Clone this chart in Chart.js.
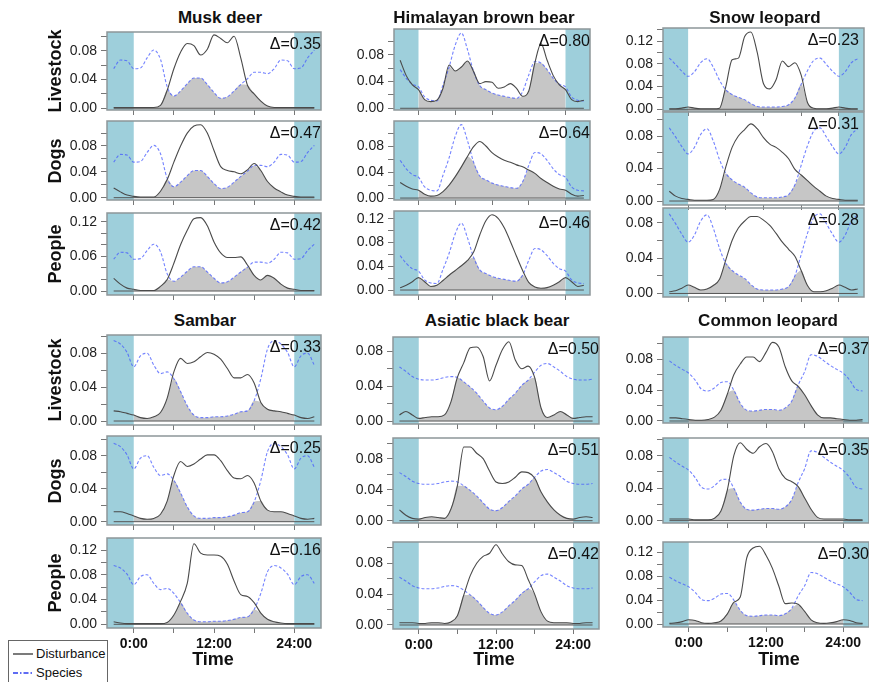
<!DOCTYPE html>
<html lang="en">
<head>
<meta charset="UTF-8">
<title>Temporal overlap with disturbance</title>
<script src="https://cdn.jsdelivr.net/npm/chart.js@4"></script>
<style>
  * { margin: 0; padding: 0; box-sizing: border-box; }
  body {
    width: 869px; height: 682px; overflow: hidden; position: relative;
    background: #fff; color: #111;
    font-family: 'Liberation Sans', Arial, sans-serif;
  }
  canvas { position: absolute; }
  .title { position: absolute; font-weight: bold; font-size: 17px; line-height: 20px; white-space: nowrap; transform: translateX(-50%); }
  .row { position: absolute; font-weight: bold; font-size: 18px; line-height: 20px; white-space: nowrap; transform: translate(-50%, -50%) rotate(-90deg); }
  .delta { position: absolute; font-size: 16px; line-height: 18px; white-space: nowrap; transform: translateX(-100%); }
  .time { position: absolute; top: 649px; font-weight: bold; font-size: 18px; line-height: 20px; transform: translateX(-50%); }
  #legend {
    position: absolute; left: 8px; top: 640px; width: 100px; height: 50px;
    border: 1px solid #666; background: #fff; font-size: 13px;
  }
  #legend .item { position: absolute; left: 4px; height: 16px; line-height: 16px; display: flex; align-items: center; white-space: nowrap; }
  #legend svg { margin-right: 3px; }
</style>
</head>
<body>
<div id="legend">
  <div class="item" style="top:5px"><svg width="20" height="6"><line x1="0" y1="3" x2="20" y2="3" stroke="#333" stroke-width="1.3"/></svg>Disturbance</div>
  <div class="item" style="top:24px"><svg width="20" height="6"><line x1="0" y1="3" x2="20" y2="3" stroke="#2b3cf0" stroke-width="1.5" stroke-dasharray="5 2 1.5 2"/></svg>Species</div>
</div>

<script>
// sample times (hours), densities read every hour from 0:00 to 24:00
const hours = [0,1,2,3,4,5,6,7,8,9,10,11,12,13,14,15,16,17,18,19,20,21,22,23,24];
const xTicks = [0, 6, 12, 18, 24];
const xTickLabels = ['0:00', '', '12:00', '', '24:00'];
const nightSpans = [[-4, 0], [24, 28]];

const speciesNames = ['Musk deer', 'Himalayan brown bear', 'Snow leopard', 'Sambar', 'Asiatic black bear', 'Common leopard'];
const disturbanceNames = ['Livestock', 'Dogs', 'People'];

// species activity
const muskDeer      = [0.055,0.056,0.070,0.081,0.068,0.030,0.017,0.024,0.034,0.042,0.042,0.033,0.022,0.014,0.016,0.024,0.033,0.041,0.050,0.050,0.048,0.055,0.067,0.066,0.055];
const brownBear     = [0.032,0.017,0.012,0.011,0.035,0.062,0.095,0.113,0.088,0.055,0.034,0.028,0.023,0.020,0.018,0.016,0.015,0.025,0.050,0.070,0.068,0.058,0.045,0.036,0.032];
const snowLeopard   = [0.058,0.066,0.082,0.089,0.074,0.051,0.034,0.026,0.021,0.017,0.010,0.005,0.004,0.004,0.004,0.005,0.008,0.020,0.044,0.068,0.086,0.090,0.079,0.067,0.058];
const sambar        = [0.064,0.077,0.080,0.066,0.056,0.058,0.050,0.035,0.018,0.007,0.004,0.004,0.005,0.005,0.006,0.008,0.011,0.012,0.024,0.050,0.085,0.095,0.091,0.081,0.064];
const blackBear     = [0.048,0.047,0.047,0.048,0.050,0.051,0.050,0.045,0.039,0.032,0.023,0.015,0.013,0.017,0.025,0.032,0.041,0.047,0.056,0.064,0.066,0.062,0.057,0.051,0.048];
const commonLeopard = [0.062,0.053,0.041,0.039,0.043,0.050,0.051,0.040,0.023,0.014,0.013,0.014,0.015,0.015,0.014,0.017,0.026,0.047,0.064,0.086,0.084,0.078,0.072,0.067,0.062];

// disturbance activity
const muskDeerLivestock = [0.001,0.001,0.001,0.001,0.004,0.025,0.055,0.078,0.090,0.087,0.074,0.082,0.102,0.097,0.091,0.100,0.070,0.032,0.020,0.010,0.003,0.001,0.001,0.001,0.001];
const muskDeerDogs      = [0.002,0.001,0.001,0.001,0.010,0.028,0.055,0.080,0.100,0.111,0.113,0.100,0.073,0.048,0.042,0.040,0.037,0.043,0.053,0.042,0.025,0.015,0.009,0.004,0.002];
const muskDeerPeople    = [0.003,0.001,0.001,0.001,0.008,0.020,0.048,0.080,0.105,0.125,0.127,0.113,0.085,0.066,0.058,0.058,0.059,0.045,0.027,0.019,0.027,0.022,0.012,0.005,0.003];

const brownBearLivestock = [0.028,0.013,0.010,0.012,0.030,0.065,0.056,0.062,0.071,0.055,0.037,0.040,0.039,0.030,0.032,0.037,0.030,0.018,0.026,0.068,0.097,0.072,0.049,0.035,0.028];
const brownBearDogs      = [0.012,0.006,0.003,0.004,0.010,0.020,0.033,0.048,0.064,0.079,0.087,0.080,0.070,0.063,0.058,0.055,0.051,0.048,0.043,0.038,0.030,0.024,0.018,0.014,0.012];
const brownBearPeople    = [0.021,0.014,0.006,0.008,0.016,0.025,0.033,0.041,0.050,0.064,0.093,0.117,0.127,0.121,0.105,0.082,0.057,0.033,0.013,0.005,0.003,0.004,0.008,0.014,0.021];

const snowLeopardLivestock = [0.004,0.002,0.001,0.001,0.001,0.002,0.040,0.087,0.090,0.128,0.136,0.100,0.045,0.036,0.052,0.085,0.075,0.082,0.060,0.012,0.002,0.001,0.001,0.002,0.004];
const snowLeopardDogs      = [0.002,0.001,0.001,0.001,0.002,0.014,0.042,0.066,0.080,0.088,0.095,0.089,0.078,0.070,0.066,0.060,0.052,0.039,0.032,0.025,0.018,0.012,0.006,0.003,0.002];
const snowLeopardPeople    = [0.0095,0.007,0.004,0.005,0.009,0.016,0.038,0.060,0.074,0.082,0.087,0.087,0.083,0.077,0.068,0.058,0.050,0.042,0.026,0.009,0.002,0.002,0.003,0.006,0.0095];

const sambarLivestock = [0.007,0.004,0.003,0.005,0.010,0.027,0.058,0.074,0.068,0.070,0.076,0.081,0.079,0.073,0.062,0.051,0.051,0.055,0.045,0.022,0.014,0.012,0.011,0.009,0.007];
const sambarDogs      = [0.007,0.004,0.003,0.004,0.009,0.025,0.056,0.073,0.067,0.070,0.076,0.081,0.081,0.074,0.062,0.053,0.052,0.056,0.047,0.025,0.014,0.012,0.012,0.010,0.007];
const sambarPeople    = [0.001,0.001,0.001,0.001,0.001,0.003,0.015,0.037,0.066,0.130,0.115,0.112,0.112,0.110,0.097,0.070,0.048,0.045,0.035,0.018,0.008,0.004,0.002,0.001,0.001];

const blackBearLivestock = [0.003,0.004,0.005,0.005,0.007,0.022,0.050,0.067,0.084,0.085,0.074,0.046,0.064,0.082,0.091,0.070,0.060,0.063,0.050,0.015,0.004,0.007,0.011,0.007,0.003];
const blackBearDogs      = [0.002,0.004,0.005,0.004,0.003,0.015,0.045,0.095,0.095,0.087,0.080,0.064,0.050,0.048,0.050,0.056,0.063,0.062,0.055,0.037,0.024,0.014,0.007,0.003,0.002];
const blackBearPeople    = [0.002,0.002,0.003,0.003,0.002,0.004,0.012,0.039,0.064,0.080,0.089,0.093,0.104,0.092,0.082,0.078,0.077,0.059,0.040,0.017,0.005,0.003,0.003,0.003,0.002];

const commonLeopardLivestock = [0.002,0.001,0.001,0.002,0.005,0.014,0.035,0.060,0.074,0.083,0.083,0.077,0.089,0.102,0.096,0.070,0.052,0.045,0.034,0.020,0.008,0.004,0.004,0.003,0.002];
const commonLeopardDogs      = [0.002,0.001,0.001,0.001,0.003,0.012,0.038,0.080,0.096,0.088,0.083,0.091,0.095,0.085,0.064,0.052,0.048,0.042,0.028,0.014,0.004,0.002,0.002,0.002,0.002];
const commonLeopardPeople    = [0.007,0.006,0.002,0.001,0.002,0.005,0.017,0.036,0.045,0.110,0.127,0.130,0.115,0.093,0.063,0.034,0.035,0.033,0.021,0.007,0.002,0.001,0.002,0.004,0.007];

// overlap coefficients
const deltaMuskDeer      = [0.35, 0.47, 0.42];
const deltaBrownBear     = [0.80, 0.64, 0.46];
const deltaSnowLeopard   = [0.23, 0.31, 0.28];
const deltaSambar        = [0.33, 0.25, 0.16];
const deltaBlackBear     = [0.50, 0.51, 0.42];
const deltaCommonLeopard = [0.37, 0.35, 0.30];

const speciesCurves = [muskDeer, brownBear, snowLeopard, sambar, blackBear, commonLeopard];
const disturbanceCurves = [
  [muskDeerLivestock, muskDeerDogs, muskDeerPeople],
  [brownBearLivestock, brownBearDogs, brownBearPeople],
  [snowLeopardLivestock, snowLeopardDogs, snowLeopardPeople],
  [sambarLivestock, sambarDogs, sambarPeople],
  [blackBearLivestock, blackBearDogs, blackBearPeople],
  [commonLeopardLivestock, commonLeopardDogs, commonLeopardPeople]
];
const deltas = [deltaMuskDeer, deltaBrownBear, deltaSnowLeopard, deltaSambar, deltaBlackBear, deltaCommonLeopard];

// y axis per panel: [min, max, labelled step]
const yAxes = [
  [[-0.0024, 0.106, 0.04], [-0.0036, 0.1187, 0.04], [-0.0069, 0.135, 0.06]],
  [[-0.0026, 0.119, 0.04], [-0.003, 0.1185, 0.04], [-0.0084, 0.1334, 0.04]],
  [[-0.003, 0.143, 0.04], [-0.0049, 0.1096, 0.04], [-0.004, 0.0967, 0.04]],
  [[-0.0047, 0.1016, 0.04], [-0.004, 0.1039, 0.04], [-0.006, 0.1394, 0.04]],
  [[-0.0034, 0.0964, 0.04], [-0.003, 0.1067, 0.04], [-0.0052, 0.1076, 0.04]],
  [[-0.0026, 0.109, 0.04], [-0.0029, 0.1018, 0.04], [-0.005, 0.137, 0.04]]
];

// layout (pixels)
const AXIS_W = 50;
const plotX = [[107, 321], [394, 590], [663, 864], [107, 321], [393, 599], [663, 869]];
const plotY = [
  [[32, 110], [121, 200], [213, 295]],
  [[29, 110], [121, 200], [211, 295]],
  [[28, 111], [112, 205], [208, 297]],
  [[335, 425], [436, 525], [538, 628]],
  [[337, 424], [438, 523], [542, 629]],
  [[337, 423], [438, 523], [542, 627]]
];
const titlePos = [[220, 8], [484, 8], [765, 8], [205, 311], [497, 311], [768, 311]];
const deltaInset = [0, 0, 5, 0, 0, 0];
const timeX = [213, 494, 779];

Chart.defaults.font.family = "'Liberation Sans', Arial, sans-serif";

const nightAndFrame = {
  id: 'nightAndFrame',
  beforeDatasetsDraw(chart) {
    const { ctx, chartArea: a, scales: { x } } = chart;
    ctx.save();
    ctx.fillStyle = '#9ecfdb';
    nightSpans.forEach(([s, e]) => {
      const x0 = Math.max(x.getPixelForValue(s), a.left);
      const x1 = Math.min(x.getPixelForValue(e), a.right);
      ctx.fillRect(x0, a.top, x1 - x0, a.bottom - a.top);
    });
    ctx.restore();
  },
  afterDatasetsDraw(chart) {
    const { ctx, chartArea: a } = chart;
    ctx.save();
    ctx.strokeStyle = '#8d9699';
    ctx.lineWidth = 1.5;
    ctx.strokeRect(a.left, a.top, a.right - a.left, a.bottom - a.top);
    ctx.restore();
  }
};

// curves run from -3 to 27 h, wrapping round midnight
function wrapped(vals) {
  const pts = [];
  for (let h = -3; h <= 27; h++) {
    const i = h < 0 ? h + 24 : (h > 24 ? h - 24 : h);
    pts.push({ x: h, y: vals[i] });
  }
  return pts;
}

function makePanel(s, r) {
  const [L, R] = plotX[s];
  const [T, B] = plotY[s][r];
  const [yMin, yMax, yStep] = yAxes[s][r];
  const bottomRow = r === 2 && s >= 3;
  const xh = bottomRow ? 26 : 7;

  const cv = document.createElement('canvas');
  cv.width = R - L + AXIS_W + 2;
  cv.height = B - T + 2 + xh;
  cv.style.left = (L - AXIS_W) + 'px';
  cv.style.top = (T - 2) + 'px';
  document.body.appendChild(cv);

  const sp = speciesCurves[s];
  const dist = disturbanceCurves[s][r];
  const overlap = hours.map(h => ({ x: h, y: Math.min(sp[h], dist[h]) }));

  const yTicks = [];
  for (let k = 0; k * 0.02 <= yMax + 1e-9; k++) yTicks.push(Math.round(k * 2) / 100);

  new Chart(cv, {
    type: 'line',
    data: {
      datasets: [
        { data: wrapped(dist), borderColor: '#4a4a4a', borderWidth: 1.1, order: 0 },
        { data: wrapped(sp), borderColor: 'rgba(70,90,255,0.75)', borderWidth: 1.1, borderDash: [3, 2], order: 1 },
        { data: [{ x: -3, y: 0 }, { x: 27, y: 0 }], borderColor: '#555', borderWidth: 1, tension: 0, order: 2 },
        { data: overlap, borderWidth: 0, borderColor: 'rgba(0,0,0,0)', backgroundColor: '#c6c6c6', fill: 'origin', order: 3 }
      ]
    },
    options: {
      responsive: false,
      animation: false,
      layout: { padding: { top: 2, right: 2, left: 0, bottom: 0 } },
      elements: { point: { radius: 0 }, line: { cubicInterpolationMode: 'monotone' } },
      plugins: { legend: { display: false }, tooltip: { enabled: false } },
      scales: {
        x: {
          type: 'linear', min: -4, max: 28,
          afterBuildTicks: sc => { sc.ticks = xTicks.map(v => ({ value: v })); },
          afterFit: sc => { sc.height = xh; },
          border: { display: false },
          grid: { drawOnChartArea: false, tickLength: 5, color: '#777' },
          ticks: {
            display: bottomRow, autoSkip: false, maxRotation: 0, padding: 3,
            color: '#111', font: { size: 14, weight: 'bold' },
            callback: v => xTickLabels[xTicks.indexOf(v)]
          }
        },
        y: {
          min: yMin, max: yMax,
          afterBuildTicks: sc => { sc.ticks = yTicks.map(v => ({ value: v })); },
          afterFit: sc => { sc.width = AXIS_W; sc.paddingTop = 0; sc.paddingBottom = 0; },
          border: { display: false },
          grid: { drawOnChartArea: false, tickLength: 6, color: '#777' },
          ticks: {
            autoSkip: false, padding: 4, color: '#222', font: { size: 14 },
            callback: v => {
              const q = v / yStep;
              return Math.abs(q - Math.round(q)) < 1e-6 ? v.toFixed(2) : '';
            }
          }
        }
      }
    },
    plugins: [nightAndFrame]
  });
}

function addText(cls, text, left, top) {
  const d = document.createElement('div');
  d.className = cls;
  d.textContent = text;
  d.style.left = left + 'px';
  d.style.top = top + 'px';
  document.body.appendChild(d);
  return d;
}

speciesNames.forEach((name, s) => {
  disturbanceNames.forEach((_, r) => makePanel(s, r));
});

speciesNames.forEach((name, s) => {
  addText('title', name, titlePos[s][0], titlePos[s][1]);
  disturbanceNames.forEach((dn, r) => {
    const [T, B] = plotY[s][r];
    addText('delta', '\u0394=' + deltas[s][r].toFixed(2), plotX[s][1] - deltaInset[s], T + 2.5);
    if (s === 0 || s === 3) addText('row', dn, 55, (T + B) / 2);
  });
});
timeX.forEach(x => addText('time', 'Time', x, 649));
document.body.appendChild(document.getElementById('legend'));
</script>
</body>
</html>
